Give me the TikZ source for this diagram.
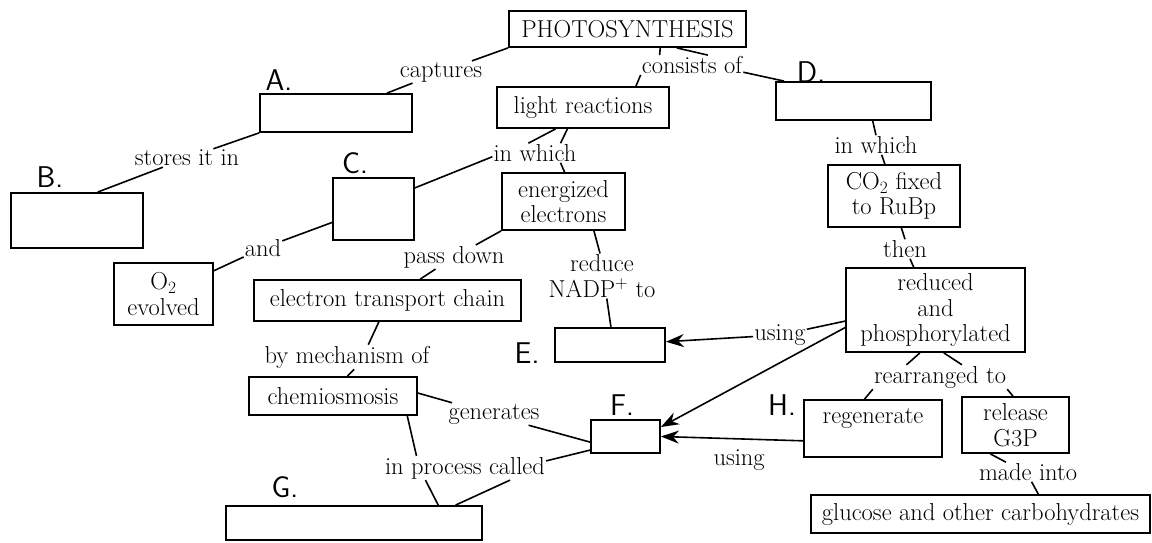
\documentclass[tikz,border=0pt]{standalone}
\usetikzlibrary{arrows.meta}

\begin{document}
\begin{tikzpicture}[x=1pt, y=-1pt,
  every node/.style={font=\fontsize{24.5}{25.5}\selectfont},
  box/.style={draw, line width=1.8pt, inner sep=0pt, align=center},
  lbl/.style={inner sep=1pt, align=center},
  hand/.style={font=\fontsize{30}{30}\sffamily, inner sep=0pt},
  link/.style={line width=1.6pt},
  arr/.style={link, -{Stealth[length=18pt, width=13pt]}}]
  \useasboundingbox (0,0) rectangle (1152,543);

  \node[box, minimum width=237pt, minimum height=36pt] (photo) at (627.5,29) {PHOTOSYNTHESIS};
  \node[box, minimum width=152pt, minimum height=38pt] (boxA) at (336,113) {};
  \node[box, minimum width=132pt, minimum height=55pt] (boxB) at (77,220.5) {};
  \node[box, minimum width=81pt, minimum height=62pt] (boxC) at (373.5,209) {};
  \node[box, minimum width=155pt, minimum height=38pt] (boxD) at (853.5,101) {};
  \node[box, minimum width=110pt, minimum height=34pt] (boxE) at (610,345) {};
  \node[box, minimum width=69pt, minimum height=33pt] (boxF) at (625.5,436.5) {};
  \node[box, minimum width=256pt, minimum height=34pt] (boxG) at (354,523) {};
  \node[box, minimum width=99pt, minimum height=62pt] (oxygen) at (163.5,294) {O$_2$\\evolved};
  \node[box, minimum width=172pt, minimum height=41pt] (lightr) at (583,107.5) {light reactions};
  \node[box, minimum width=123pt, minimum height=57pt] (energ) at (563.5,201.5) {energized\\electrons};
  \node[box, minimum width=267pt, minimum height=41pt] (etc) at (387.5,300.5) {electron transport chain};
  \node[box, minimum width=168pt, minimum height=38pt] (chemio) at (333,396) {chemiosmosis};
  \node[box, minimum width=132pt, minimum height=62pt] (fixed) at (894,196) {CO$_2$ fixed\\to RuBp};
  \node[box, minimum width=179pt, minimum height=84pt] (reduced) at (935.5,310) {reduced\\and\\phosphorylated};
  \node[box, minimum width=138pt, minimum height=57pt] (regen) at (873,428.5) {regenerate\\\mbox{}};
  \node[box, minimum width=107pt, minimum height=56pt] (release) at (1015.5,425) {release\\G3P};
  \node[box, minimum width=339pt, minimum height=38pt] (glucose) at (980.5,514) {glucose and other carbohydrates};

  \node[lbl] (captures) at (441,72) {captures};
  \node[lbl] (consists) at (692,65) {consists of};
  \node[lbl] (stores) at (187,158) {stores it in};
  \node[lbl] (inwhichL) at (535,153) {in which};
  \node[lbl] (inwhichD) at (876,145) {in which};
  \node[lbl] (and) at (263,248) {and};
  \node[lbl] (pass) at (454,257) {pass down};
  \node[lbl] (reduce) at (602,276) {reduce\\NADP$^+$ to};
  \node[lbl] (bymech) at (347,357) {by mechanism of};
  \node[lbl] (generates) at (494,414) {generates};
  \node[lbl] (inproc) at (465,468) {in process called};
  \node[lbl] (then) at (905,249) {then};
  \node[lbl] (usingE) at (780,335) {using};
  \node[lbl] (rearr) at (940,377) {rearranged to};
  \node[lbl] (made) at (1028,472) {made into};

  \node[hand] (tagA) at (279,80) {A.};
  \node[hand] (tagB) at (50,177) {B.};
  \node[hand] (tagC) at (355,163) {C.};
  \node[hand] (tagD) at (811,72) {D.};
  \node[hand] (tagE) at (527,353) {E.};
  \node[hand] (tagF) at (622,405) {F.};
  \node[hand] (tagG) at (285,487) {G.};
  \node[hand] (tagH) at (782,405) {H.};

  \draw[link] (photo.south west) -- (captures);
  \draw[link] (captures) -- (boxA);
  \draw[link] (boxA.south west) -- (stores);
  \draw[link] (stores) -- (boxB.54);
  \draw[link] (photo.-30) -- (consists.163);
  \draw[link] (photo.-21) -- (consists.32);
  \draw[link] (consists.south west) -- (lightr.22);
  \draw[link] (consists.-8) -- (boxD.164);
  \draw[link] (lightr.218) -- (inwhichL.124);
  \draw[link] (inwhichL.185) -- (boxC.27);
  \draw[link] (lightr.-126) -- (inwhichL.21);
  \draw[link] (inwhichL.-21) -- (energ.88);
  \draw[link] (boxC.198) -- (and);
  \draw[link] (and) -- (oxygen);
  \draw[link] (energ.south west) -- (pass);
  \draw[link] (pass) -- (etc);
  \draw[link] (energ.-44) -- (reduce.95);
  \draw[link] (reduce.-78) -- (boxE.87);
  \draw[link] (etc.-112) -- (bymech.30);
  \draw[link] (bymech.-60) -- (chemio.54);
  \draw[link] (chemio.2) -- (generates.165);
  \draw[link] (generates.-18) -- (boxF.189);
  \draw[link] (chemio.-15) -- (inproc.166);
  \draw[link] (inproc.-163) -- (boxG.12);
  \draw[link] (boxF.201) -- (inproc.5);
  \draw[link] (inproc.-15) -- (boxG.10);
  \draw[link] (boxD.-46) -- (inwhichD.north);
  \draw[link] (inwhichD.-60) -- (fixed.106);
  \draw[link] (fixed.-77) -- (then.north);
  \draw[link] (then.-63) -- (reduced.117);
  \draw[arr] (reduced.191) -- (boxF.15);
  \draw[link] (reduced.187) -- (usingE);
  \draw[arr] (usingE) -- (boxE);
  \draw[arr] (regen.190) -- node[lbl, pos=0.45, below=9pt] (usingH) {using} (boxF.east);
  \draw[link] (reduced.-110) -- (rearr.160);
  \draw[link] (reduced.-79) -- (rearr.29);
  \draw[link] (rearr.south west) -- (regen.106);
  \draw[link] (rearr.south east) -- (release.95);
  \draw[link] (release.-131) -- (made.156);
  \draw[link] (made.-70) -- (glucose.19);
\end{tikzpicture}
\end{document}
